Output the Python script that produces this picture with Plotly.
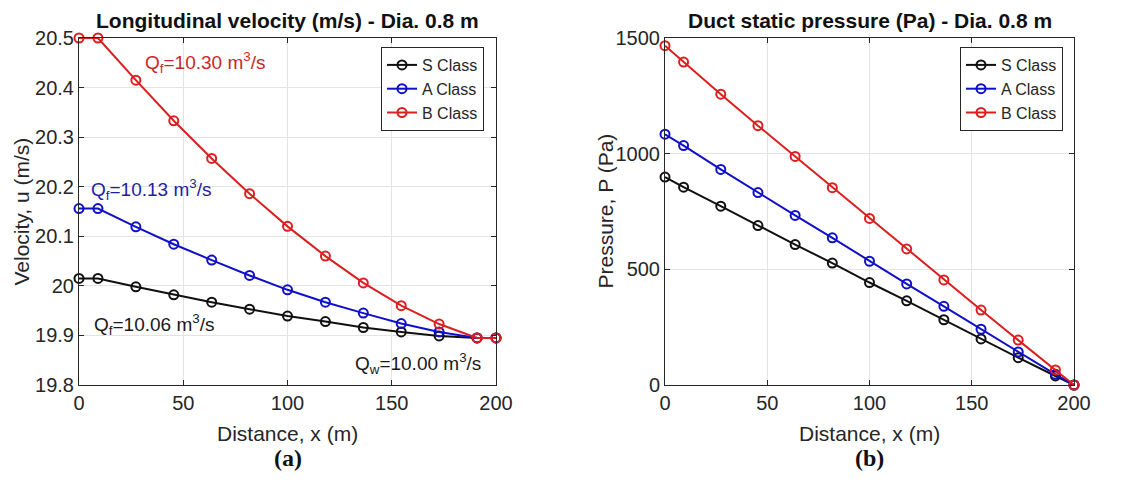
import plotly.graph_objects as go

# ---- data ----
x_pts = [0, 9.09, 27.27, 45.45, 63.64, 81.82, 100, 118.18, 136.36, 154.55, 172.73, 190.91, 200]

vel_S = [20.015, 20.015, 19.998, 19.982, 19.967, 19.953, 19.939, 19.928, 19.916, 19.907, 19.899, 19.895, 19.895]
vel_A = [20.156, 20.156, 20.119, 20.084, 20.052, 20.021, 19.992, 19.967, 19.945, 19.924, 19.907, 19.895, 19.895]
vel_B = [20.500, 20.500, 20.415, 20.333, 20.257, 20.186, 20.120, 20.060, 20.006, 19.960, 19.923, 19.895, 19.895]

prs_S = [899, 855, 773, 689, 607, 527, 443, 364, 282, 199, 118, 39, 0]
prs_A = [1084, 1035, 932, 832, 733, 636, 535, 437, 340, 241, 143, 46, 0]
prs_B = [1467, 1396, 1257, 1121, 988, 853, 720, 588, 454, 324, 194, 65, 0]

series_names = ["S Class", "A Class", "B Class"]
colors = ["#101010", "#1010c8", "#dc1e1e"]

x_ticks = [0, 50, 100, 150, 200]
vel_ticks = [19.8, 19.9, 20.0, 20.1, 20.2, 20.3, 20.4, 20.5]
vel_ticktext = ["19.8", "19.9", "20", "20.1", "20.2", "20.3", "20.4", "20.5"]
prs_ticks = [0, 500, 1000, 1500]

FONT = "Liberation Sans, Arial, sans-serif"
AX = "#262626"

fig = go.Figure()

for name, ys, c in zip(series_names, [vel_S, vel_A, vel_B], colors):
    fig.add_trace(go.Scatter(
        x=x_pts, y=ys, name=name, mode="lines+markers",
        line=dict(color=c, width=2),
        marker=dict(symbol="circle-open", size=9, color=c, line=dict(width=2, color=c)),
        xaxis="x", yaxis="y", legend="legend", cliponaxis=False))

for name, ys, c in zip(series_names, [prs_S, prs_A, prs_B], colors):
    fig.add_trace(go.Scatter(
        x=x_pts, y=ys, name=name, mode="lines+markers",
        line=dict(color=c, width=2),
        marker=dict(symbol="circle-open", size=9, color=c, line=dict(width=2, color=c)),
        xaxis="x2", yaxis="y2", legend="legend2", cliponaxis=False))

axis_common = dict(
    showline=True, linecolor=AX, linewidth=1, mirror="ticks",
    ticks="inside", ticklen=5, tickcolor=AX,
    showgrid=True, gridcolor="#e3e3e3", gridwidth=1,
    zeroline=False,
    tickfont=dict(family=FONT, size=20, color=AX),
)

L = [79 / 1140, 496 / 1140]
R = [665 / 1140, 1074 / 1140]
YD = [1 - 385 / 494, 1 - 38 / 494]

legend_common = dict(
    bgcolor="white", bordercolor=AX, borderwidth=1,
    font=dict(family=FONT, size=16, color=AX),
    xanchor="left", yanchor="top", tracegroupgap=0,
    itemwidth=30,
)

fig.update_layout(
    width=1140, height=494,
    margin=dict(l=0, r=0, t=0, b=0, autoexpand=False),
    paper_bgcolor="white", plot_bgcolor="white",
    showlegend=True,
    xaxis=dict(domain=L, range=[0, 200], tickvals=x_ticks, anchor="y", **axis_common),
    yaxis=dict(domain=YD, range=[19.8, 20.5], tickvals=vel_ticks, ticktext=vel_ticktext,
               anchor="x", **axis_common),
    xaxis2=dict(domain=R, range=[0, 200], tickvals=x_ticks, anchor="y2", **axis_common),
    yaxis2=dict(domain=YD, range=[0, 1500], tickvals=prs_ticks, anchor="x2", **axis_common),
    legend=dict(x=381 / 1140, y=1 - 47 / 494, **legend_common),
    legend2=dict(x=960 / 1140, y=1 - 47 / 494, **legend_common),
)

anns = []
# titles
anns.append(dict(text="<b>Longitudinal velocity (m/s) - Dia. 0.8 m</b>", x=(L[0] + L[1]) / 2, y=1 - 20 / 494,
                 xref="paper", yref="paper", xanchor="center", yanchor="middle", showarrow=False,
                 font=dict(family=FONT, size=21, color="#111111")))
anns.append(dict(text="<b>Duct static pressure (Pa) - Dia. 0.8 m</b>", x=(R[0] + R[1]) / 2, y=1 - 20 / 494,
                 xref="paper", yref="paper", xanchor="center", yanchor="middle", showarrow=False,
                 font=dict(family=FONT, size=21, color="#111111")))
# axis titles
for cx in [(L[0] + L[1]) / 2, (R[0] + R[1]) / 2]:
    anns.append(dict(text="Distance, x (m)", x=cx, y=1 - 433 / 494, xref="paper", yref="paper",
                     xanchor="center", yanchor="middle",
                     showarrow=False, font=dict(family=FONT, size=21, color=AX)))
anns.append(dict(text="Velocity, u (m/s)", x=21 / 1140, y=(YD[0] + YD[1]) / 2, xref="paper", yref="paper",
                 xanchor="center", yanchor="middle",
                 showarrow=False, textangle=-90, font=dict(family=FONT, size=21, color=AX)))
anns.append(dict(text="Pressure, P (Pa)", x=605 / 1140, y=(YD[0] + YD[1]) / 2, xref="paper", yref="paper",
                 xanchor="center", yanchor="middle",
                 showarrow=False, textangle=-90, font=dict(family=FONT, size=21, color=AX)))
# panel labels
for cx, lab in [((L[0] + L[1]) / 2, "<b>(a)</b>"), ((R[0] + R[1]) / 2, "<b>(b)</b>")]:
    anns.append(dict(text=lab, x=cx, y=1 - 458 / 494, xref="paper", yref="paper",
                     xanchor="center", yanchor="middle", showarrow=False,
                     font=dict(family="Liberation Serif, Times New Roman, serif", size=24, color="#111111")))
# flow labels
anns.append(dict(text="Q<sub>f</sub>=10.30 m<sup>3</sup>/s", x=30.5, y=20.45, xref="x", yref="y",
                 xanchor="left", showarrow=False, font=dict(family=FONT, size=19, color="#c8282a")))
anns.append(dict(text="Q<sub>f</sub>=10.13 m<sup>3</sup>/s", x=4.8, y=20.195, xref="x", yref="y",
                 xanchor="left", showarrow=False, font=dict(family=FONT, size=19, color="#1e1ea8")))
anns.append(dict(text="Q<sub>f</sub>=10.06 m<sup>3</sup>/s", x=6, y=19.922, xref="x", yref="y",
                 xanchor="left", showarrow=False, font=dict(family=FONT, size=19, color="#1a1a1a")))
anns.append(dict(text="Q<sub>w</sub>=10.00 m<sup>3</sup>/s", x=131.5, y=19.843, xref="x", yref="y",
                 xanchor="left", showarrow=False, font=dict(family=FONT, size=19, color="#1a1a1a")))

fig.update_layout(annotations=anns)

fig.write_html("out.html")
